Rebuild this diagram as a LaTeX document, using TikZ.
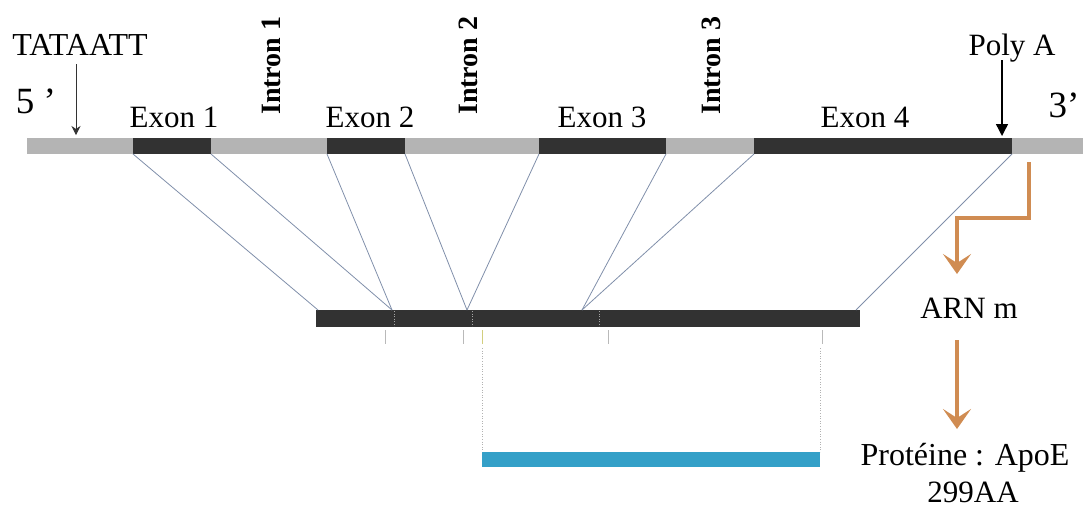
\documentclass[tikz,border=0pt]{standalone}
\usepackage{fontspec}
\setmainfont{Liberation Serif}
\usetikzlibrary{arrows.meta}

\definecolor{introngray}{RGB}{180,180,180}
\definecolor{exondark}{RGB}{50,50,50}
\definecolor{splicecol}{RGB}{128,143,170}
\definecolor{transcol}{RGB}{208,140,82}
\definecolor{protblue}{RGB}{52,160,200}

\tikzset{
  lbl/.style={font=\fontsize{31}{35}\selectfont, inner sep=0pt, anchor=base},
  intronlbl/.style={font=\bfseries\fontsize{28}{32}\selectfont, inner sep=0pt,
    rotate=90, anchor=base west},
  endlbl/.style={font=\fontsize{37}{40}\selectfont, inner sep=0pt, anchor=base},
  spliceline/.style={draw=splicecol, line width=0.8pt},
  transc/.style={draw=transcol, line width=4.5pt,
    -{Stealth[length=20pt, width=28pt, inset=9pt]}},
  tick/.style={draw=gray!55, line width=0.6pt}
}

\begin{document}
\begin{tikzpicture}[x=1pt, y=-1pt, >=Stealth]
  \useasboundingbox (0,0) rectangle (1092,515);

  % gene: introns in grey, exons in dark
  \fill[introngray] (27,138) rectangle (1083,154);
  \foreach \a/\b/\n in {133/211/1, 327/405/2, 539/666/3, 754/1012/4} {
    \fill[exondark] (\a,138) rectangle (\b,154);
    \coordinate (e\n l) at (\a,154);
    \coordinate (e\n r) at (\b,154);
  }

  \node[lbl] (ex1) at (174,127) {Exon 1};
  \node[lbl] (ex2) at (370,127) {Exon 2};
  \node[lbl] (ex3) at (602,127) {Exon 3};
  \node[lbl] (ex4) at (865,127) {Exon 4};

  \node[intronlbl] (in1) at (280,115) {Intron 1};
  \node[intronlbl] (in2) at (477,115) {Intron 2};
  \node[intronlbl] (in3) at (720,115) {Intron 3};

  \node[endlbl] (five) at (36,113) {5 ’};
  \node[endlbl] (three) at (1064,117) {3’};

  \node[lbl, font=\fontsize{32}{35}\selectfont] (tata) at (80,55) {TATAATT};
  \coordinate (tatatip) at (76,135);
  \draw[-{Stealth[length=9pt, width=9pt]}, black!80, line width=0.8pt] (76,64) -- (tatatip);

  \node[lbl] (polya) at (1012,55) {Poly A};
  \coordinate (polytip) at (1002,136);
  \draw[-{Triangle[length=12pt, width=12pt]}, line width=1.4pt] (1002,60) -- (polytip);

  % mature mRNA
  \fill[exondark] (316,310) rectangle (860,327);
  \coordinate (m0) at (318,310);
  \coordinate (j1) at (392,310);
  \coordinate (j2) at (467,310);
  \coordinate (j3) at (582,310);
  \coordinate (m4) at (856,310);
  \foreach \x in {394,472,599}
    \draw[gray!70, dotted, line width=0.5pt] (\x,311) -- (\x,326);

  \draw[spliceline] (e1l) -- (m0);
  \draw[spliceline] (e1r) -- (j1);
  \draw[spliceline] (e2l) -- (j1);
  \draw[spliceline] (e2r) -- (j2);
  \draw[spliceline] (e3l) -- (j2);
  \draw[spliceline] (e3r) -- (j3);
  \draw[spliceline] (e4l) -- (j3);
  \draw[spliceline] (e4r) -- (m4);

  \foreach \x in {385,463,608,822}
    \draw[tick] (\x,330) -- (\x,344);
  \draw[tick, draw=olive!40] (482,330) -- (482,344);

  % coding part and protein
  \fill[protblue] (482,452) rectangle (820,467);
  \coordinate (pl) at (482,452);
  \coordinate (pr) at (820,452);
  \draw[gray!60, dotted, line width=0.6pt] (482,348) -- (pl);
  \draw[gray!60, dotted, line width=0.6pt] (820,348) -- (pr);

  % transcription / translation
  \node[lbl] (arn) at (969,318) {ARN m};
  \node[lbl, font=\fontsize{32}{35}\selectfont] (prot) at (965,465) {Protéine : ApoE};
  \node[lbl] (aa) at (973,502) {299AA};

  \coordinate (trstart) at (1029,162);
  \coordinate (trbend) at (957,218);
  \coordinate (arnin) at (957,274);
  \coordinate (arnout) at (957,340);
  \coordinate (protin) at (957,429);
  \draw[transc] (trstart) |- (trbend) -- (arnin);
  \draw[transc] (arnout) -- (protin);
\end{tikzpicture}
\end{document}
